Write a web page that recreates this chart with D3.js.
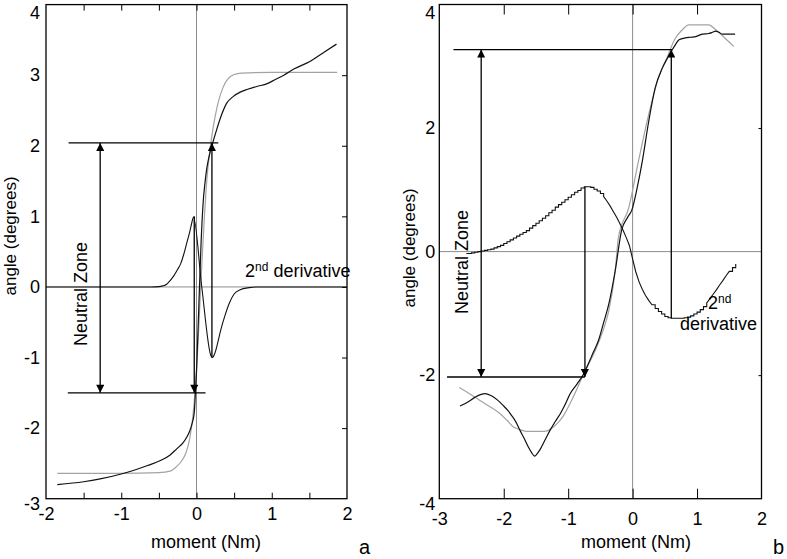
<!DOCTYPE html>
<html><head><meta charset="utf-8">
<script src="https://cdn.jsdelivr.net/npm/d3@7"></script>
<style>
body{margin:0;background:#fff}
svg{display:block;background:#fff}
text{font-family:"Liberation Sans",Arial,Helvetica,sans-serif;fill:#000}
</style>
</head><body>
<svg id="chart" width="787" height="559"></svg>
<script>
// ---------------- Panel a data ----------------
const aDataMoment = [-1.85,-1.5,-1.28,-1.0,-0.84,-0.65,-0.48,-0.35,-0.26,-0.18,-0.13,-0.09,-0.06,-0.03,-0.02,0.0,0.03,0.06,0.09,0.11,0.14,0.17,0.21,0.26,0.32,0.40,0.49,0.58,0.68,0.80,0.94,1.05,1.16,1.30,1.50,1.70,1.86];
const aDataAngle  = [-2.80,-2.76,-2.72,-2.65,-2.60,-2.53,-2.46,-2.38,-2.29,-2.21,-2.13,-2.04,-1.94,-1.78,-1.62,-1.20,-0.30,0.60,1.22,1.45,1.70,1.86,2.02,2.20,2.40,2.60,2.70,2.76,2.80,2.84,2.88,2.94,3.00,3.09,3.19,3.33,3.44];
const aModelMoment = [-1.85,-1.0,-0.5,-0.35,-0.28,-0.2,-0.14,-0.09,-0.05,-0.02,0.02,0.06,0.10,0.14,0.18,0.22,0.28,0.35,0.42,0.50,0.60,1.0,1.87];
const aModelAngle  = [-2.64,-2.64,-2.63,-2.61,-2.56,-2.47,-2.35,-2.15,-1.85,-1.50,-0.80,0.10,0.90,1.55,1.95,2.25,2.58,2.82,2.95,3.01,3.03,3.04,3.04];
const aDerivMoment = [-2.0,-0.6,-0.5,-0.45,-0.4,-0.35,-0.3,-0.25,-0.21,-0.17,-0.13,-0.09,-0.06,-0.04,0.07,0.19,0.21,0.24,0.28,0.32,0.38,0.44,0.50,0.58,0.70,0.80,2.0];
const aDerivValue  = [0,0,0.005,0.015,0.035,0.09,0.16,0.25,0.33,0.46,0.62,0.78,0.92,0.99,0.0,-0.97,-1.0,-0.95,-0.80,-0.62,-0.40,-0.22,-0.10,-0.04,-0.01,0,0];
const aXLabels = [-2,-1,0,1,2];
const aXTicks  = [-1.5,-1,-0.5,0,0.5,1,1.5];
const aYLabels = [-3,-2,-1,0,1,2,3,4];
const aYTicks  = [-2,-1,0,1,2,3];
// neutral zone annotations (data units)
const aZoneLow = -1.5, aZoneHigh = 2.04;
const aZoneArrowX = -1.28;
const aLowLine = [-1.71, 0.12], aHighLine = [-1.70, 0.29];
const aPeakX = -0.03, aPeakVal = 1.0, aTroughX = 0.205, aTroughVal = -1.0;

// ---------------- Panel b data ----------------
const bDataMoment = [-2.68,-2.55,-2.45,-2.35,-2.29,-2.20,-2.10,-2.01,-1.93,-1.88,-1.81,-1.75,-1.68,-1.62,-1.57,-1.52,-1.48,-1.44,-1.36,-1.28,-1.20,-1.12,-1.04,-0.97,-0.86,-0.76,-0.68,-0.61,-0.53,-0.45,-0.37,-0.27,-0.17,-0.08,-0.01,0.07,0.15,0.25,0.35,0.46,0.55,0.61,0.67,0.72,0.82,0.90,0.98,1.08,1.18,1.24,1.29,1.34,1.39,1.50,1.59];
const bDataAngle  = [-2.50,-2.43,-2.36,-2.31,-2.30,-2.33,-2.40,-2.49,-2.58,-2.65,-2.76,-2.89,-3.03,-3.16,-3.25,-3.31,-3.27,-3.21,-3.05,-2.89,-2.75,-2.62,-2.46,-2.30,-2.14,-1.98,-1.80,-1.63,-1.44,-1.15,-0.85,-0.31,0.35,0.55,0.68,1.03,1.46,2.11,2.65,2.97,3.15,3.26,3.36,3.43,3.46,3.47,3.48,3.52,3.53,3.55,3.57,3.55,3.52,3.52,3.52];
const bModelMoment = [-2.69,-2.50,-2.37,-2.20,-2.06,-1.95,-1.85,-1.75,-1.64,-1.50,-1.38,-1.30,-1.23,-1.15,-1.07,-0.92,-0.76,-0.58,-0.45,-0.37,-0.27,-0.22,-0.06,0.09,0.25,0.40,0.53,0.66,0.77,0.87,1.00,1.18,1.29,1.44,1.57];
const bModelAngle  = [-2.20,-2.32,-2.41,-2.52,-2.62,-2.73,-2.84,-2.88,-2.91,-2.91,-2.91,-2.89,-2.84,-2.76,-2.65,-2.35,-1.98,-1.60,-1.25,-0.96,-0.31,0.23,0.71,1.46,2.22,2.81,3.13,3.45,3.59,3.67,3.67,3.67,3.59,3.45,3.32];
const bDerivMoment = [-2.58,-2.55,-2.50,-2.45,-2.40,-2.35,-2.30,-2.25,-2.20,-2.15,-2.10,-2.05,-2.00,-1.95,-1.90,-1.85,-1.80,-1.75,-1.70,-1.65,-1.60,-1.55,-1.50,-1.45,-1.40,-1.35,-1.30,-1.25,-1.20,-1.15,-1.10,-1.05,-1.00,-0.95,-0.90,-0.85,-0.80,-0.75,-0.70,-0.65,-0.60,-0.55,-0.50,-0.45,-0.40,-0.35,-0.30,-0.25,-0.20,-0.15,-0.10,-0.05,0.00,0.05,0.10,0.15,0.20,0.25,0.30,0.35,0.40,0.45,0.50,0.55,0.60,0.65,0.70,0.75,0.80,0.85,0.90,0.95,1.00,1.05,1.10,1.15,1.20,1.25,1.30,1.35,1.40,1.45,1.50,1.55,1.60];
const bDerivValue  = [-0.03,-0.03,-0.02,-0.01,0.00,0.01,0.02,0.03,0.04,0.06,0.08,0.10,0.13,0.16,0.19,0.22,0.25,0.28,0.31,0.34,0.38,0.42,0.46,0.50,0.54,0.58,0.63,0.67,0.72,0.76,0.80,0.84,0.88,0.92,0.96,0.99,1.03,1.05,1.05,1.04,1.01,0.98,0.94,0.89,0.82,0.74,0.65,0.56,0.46,0.35,0.23,0.10,-0.12,-0.33,-0.49,-0.61,-0.71,-0.79,-0.86,-0.92,-0.97,-1.01,-1.05,-1.07,-1.08,-1.08,-1.08,-1.08,-1.07,-1.06,-1.04,-1.01,-0.98,-0.94,-0.89,-0.83,-0.76,-0.69,-0.62,-0.54,-0.47,-0.39,-0.32,-0.26,-0.20];
const bXLabels = [-3,-2,-1,0,1,2];
const bXTicks  = [-2,-1,0,1];
const bYLabels = [-4,-2,0,2,4];
const bYTicks  = [-2,2];
const bZoneLow = -2.03, bZoneHigh = 3.27;
const bZoneArrowX = -2.35;
const bLowLine = [-2.88, -0.74], bHighLine = [-2.78, 0.61];
const bPeakX = -0.74, bPeakVal = 1.05, bTroughX = 0.60, bTroughVal = -1.08;

// ---------------- drawing ----------------
const svg = d3.select("#chart");
svg.append("rect").attr("width",787).attr("height",559).attr("fill","#fff");
const defs = svg.append("defs");
defs.append("marker").attr("id","arrow").attr("viewBox","0 0 10 10")
  .attr("refX",10).attr("refY",5).attr("markerWidth",9).attr("markerHeight",8)
  .attr("markerUnits","userSpaceOnUse").attr("orient","auto-start-reverse")
  .append("path").attr("d","M0,0 L10,5 L0,10 Z").attr("fill","#000");

const FONT = 18;
const TITLE_FONT = 17;

// jagged (staircase) rendering style: shallow segments drawn as steps, steep ones straight
function jagged(threshold){
  return function(context){
    let n = 0, py;
    return {
      areaStart(){}, areaEnd(){},
      lineStart(){ n = 0; },
      lineEnd(){},
      point(x, y){
        x = +x; y = +y;
        if (n === 0) { context.moveTo(x, y); n = 1; }
        else if (Math.abs(y - py) < threshold) { context.lineTo(x, py); context.lineTo(x, y); }
        else { context.lineTo(x, y); }
        py = y;
      }
    };
  };
}

function panel(o){
  const x = d3.scaleLinear().domain(o.xDomain).range(o.xRange);
  const y = d3.scaleLinear().domain(o.yDomain).range(o.yRange);
  const g = svg.append("g");
  const [x0,x1] = o.xRange, [y0,y1] = o.yRange; // y0 bottom, y1 top
  const fmt = d => String(d);

  // zero lines
  g.append("line").attr("x1",x(0)).attr("x2",x(0)).attr("y1",y1).attr("y2",y0)
    .attr("stroke","#8c8c8c").attr("stroke-width",1);
  g.append("line").attr("x1",x0).attr("x2",x1).attr("y1",y(0)).attr("y2",y(0))
    .attr("stroke","#8c8c8c").attr("stroke-width",1);

  // inward tick marks
  g.append("g").attr("transform",`translate(0,${y0})`)
    .call(d3.axisBottom(x).tickValues(o.xTicks).tickSize(-o.tickLenX).tickFormat(""))
    .call(s=>s.select(".domain").remove()).selectAll("line").attr("stroke","#000");
  g.append("g").attr("transform",`translate(0,${y1})`)
    .call(d3.axisTop(x).tickValues(o.xTicks).tickSize(-o.tickLenX).tickFormat(""))
    .call(s=>s.select(".domain").remove()).selectAll("line").attr("stroke","#000");
  g.append("g").attr("transform",`translate(${x1},0)`)
    .call(d3.axisRight(y).tickValues(o.yTicks).tickSize(-o.tickLenY).tickFormat(""))
    .call(s=>s.select(".domain").remove()).selectAll("line").attr("stroke","#000");

  // labels
  const xl = g.append("g").attr("transform",`translate(0,${y0})`)
    .call(d3.axisBottom(x).tickValues(o.xLabels).tickSize(0).tickPadding(o.xPad).tickFormat(fmt));
  xl.select(".domain").remove();
  xl.selectAll("text").attr("font-size",FONT).attr("font-family","Liberation Sans, Arial, sans-serif").attr("fill","#000");
  const yl = g.append("g").attr("transform",`translate(${x0},0)`)
    .call(d3.axisLeft(y).tickValues(o.yLabels).tickSize(0).tickPadding(o.yPad).tickFormat(fmt));
  yl.select(".domain").remove();
  yl.selectAll("text").attr("font-size",FONT).attr("font-family","Liberation Sans, Arial, sans-serif").attr("fill","#000")
    .attr("dy", d => d === o.yDomain[1] ? "0.75em" : (d === o.yDomain[0] ? "0.62em" : "0.32em"));

  // frame
  g.append("rect").attr("x",x0).attr("y",y1).attr("width",x1-x0).attr("height",y0-y1)
    .attr("fill","none").attr("stroke","#000").attr("stroke-width",1.3);

  // curves
  const line = d3.line().x(d=>x(d[0])).y(d=>y(d[1]));
  g.append("path").datum(d3.zip(o.modelX,o.modelY))
    .attr("d",line.curve(d3.curveMonotoneX)).attr("fill","none").attr("stroke","#a3a3a3").attr("stroke-width",1.2);
  g.append("path").datum(d3.zip(o.dataX,o.dataY))
    .attr("d",line.curve(d3.curveMonotoneX)).attr("fill","none").attr("stroke","#111").attr("stroke-width",1.2);
  g.append("path").datum(d3.zip(o.derivX,o.derivY))
    .attr("d",line.curve(o.derivCurve)).attr("fill","none").attr("stroke","#111").attr("stroke-width",1.1);

  // neutral zone annotation
  g.append("line").attr("x1",x(o.highLine[0])).attr("x2",x(o.highLine[1]))
    .attr("y1",y(o.zoneHigh)).attr("y2",y(o.zoneHigh)).attr("stroke","#000").attr("stroke-width",1.3);
  g.append("line").attr("x1",x(o.lowLine[0])).attr("x2",x(o.lowLine[1]))
    .attr("y1",y(o.zoneLow)).attr("y2",y(o.zoneLow)).attr("stroke","#000").attr("stroke-width",1.3);
  g.append("line").attr("x1",x(o.zoneX)).attr("x2",x(o.zoneX))
    .attr("y1",y(o.zoneLow)).attr("y2",y(o.zoneHigh)).attr("stroke","#000").attr("stroke-width",1.3)
    .attr("marker-start","url(#arrow)").attr("marker-end","url(#arrow)");
  g.append("line").attr("x1",x(o.peakX)).attr("x2",x(o.peakX))
    .attr("y1",y(o.peakVal)).attr("y2",y(o.zoneLow)).attr("stroke","#000").attr("stroke-width",1.3)
    .attr("marker-end","url(#arrow)");
  g.append("line").attr("x1",x(o.troughX)).attr("x2",x(o.troughX))
    .attr("y1",y(o.troughVal)).attr("y2",y(o.zoneHigh)).attr("stroke","#000").attr("stroke-width",1.3)
    .attr("marker-end","url(#arrow)");

  // titles
  g.append("text").attr("transform",`translate(${o.nzPos[0]},${o.nzPos[1]}) rotate(-90)`)
    .attr("text-anchor","middle").attr("font-size",FONT).text("Neutral Zone");
  g.append("text").attr("transform",`translate(${o.yTitlePos[0]},${o.yTitlePos[1]}) rotate(-90)`)
    .attr("text-anchor","middle").attr("font-size",TITLE_FONT).text("angle (degrees)");
  g.append("text").attr("x",o.xTitlePos[0]).attr("y",o.xTitlePos[1])
    .attr("text-anchor","middle").attr("font-size",FONT).text("moment (Nm)");
  g.append("text").attr("x",o.letterPos[0]).attr("y",o.letterPos[1])
    .attr("font-size",20).text(o.letter);
  return {x,y,g};
}

const pa = panel({
  xDomain:[-2,2], xRange:[46,347], yDomain:[-3,4], yRange:[498.7,4.6],
  xTicks:aXTicks, yTicks:aYTicks, xLabels:aXLabels, yLabels:aYLabels,
  tickLenX:6, tickLenY:5, xPad:9, yPad:6,
  dataX:aDataMoment, dataY:aDataAngle, modelX:aModelMoment, modelY:aModelAngle,
  derivX:aDerivMoment, derivY:aDerivValue, derivCurve:d3.curveMonotoneX,
  zoneLow:aZoneLow, zoneHigh:aZoneHigh, zoneX:aZoneArrowX, lowLine:aLowLine, highLine:aHighLine,
  peakX:aPeakX, peakVal:aPeakVal, troughX:aTroughX, troughVal:aTroughVal,
  nzPos:[87,294], yTitlePos:[16,236], xTitlePos:[206,548], letterPos:[359,554], letter:"a"
});
// 2nd derivative label panel a
const la = svg.append("text").attr("x",245).attr("y",277).attr("font-size",FONT);
la.append("tspan").text("2");
la.append("tspan").attr("dy",-6).attr("font-size",12).text("nd");
la.append("tspan").attr("dy",6).text(" derivative");

const pb = panel({
  xDomain:[-3,2], xRange:[439.3,761.5], yDomain:[-4,4], yRange:[498.7,4.5],
  xTicks:bXTicks, yTicks:bYTicks, xLabels:bXLabels, yLabels:bYLabels,
  tickLenX:10, tickLenY:3, xPad:14, yPad:4,
  dataX:bDataMoment, dataY:bDataAngle, modelX:bModelMoment, modelY:bModelAngle,
  derivX:bDerivMoment, derivY:bDerivValue, derivCurve:jagged(4),
  zoneLow:bZoneLow, zoneHigh:bZoneHigh, zoneX:bZoneArrowX, lowLine:bLowLine, highLine:bHighLine,
  peakX:bPeakX, peakVal:bPeakVal, troughX:bTroughX, troughVal:bTroughVal,
  nzPos:[468,262], yTitlePos:[415,248], xTitlePos:[636,548], letterPos:[773,554], letter:"b"
});
const lb1 = svg.append("text").attr("x",708).attr("y",309).attr("font-size",FONT);
lb1.append("tspan").text("2");
lb1.append("tspan").attr("dy",-6).attr("font-size",12).text("nd");
svg.append("text").attr("x",680).attr("y",330).attr("font-size",FONT).text("derivative");
</script>
</body></html>
